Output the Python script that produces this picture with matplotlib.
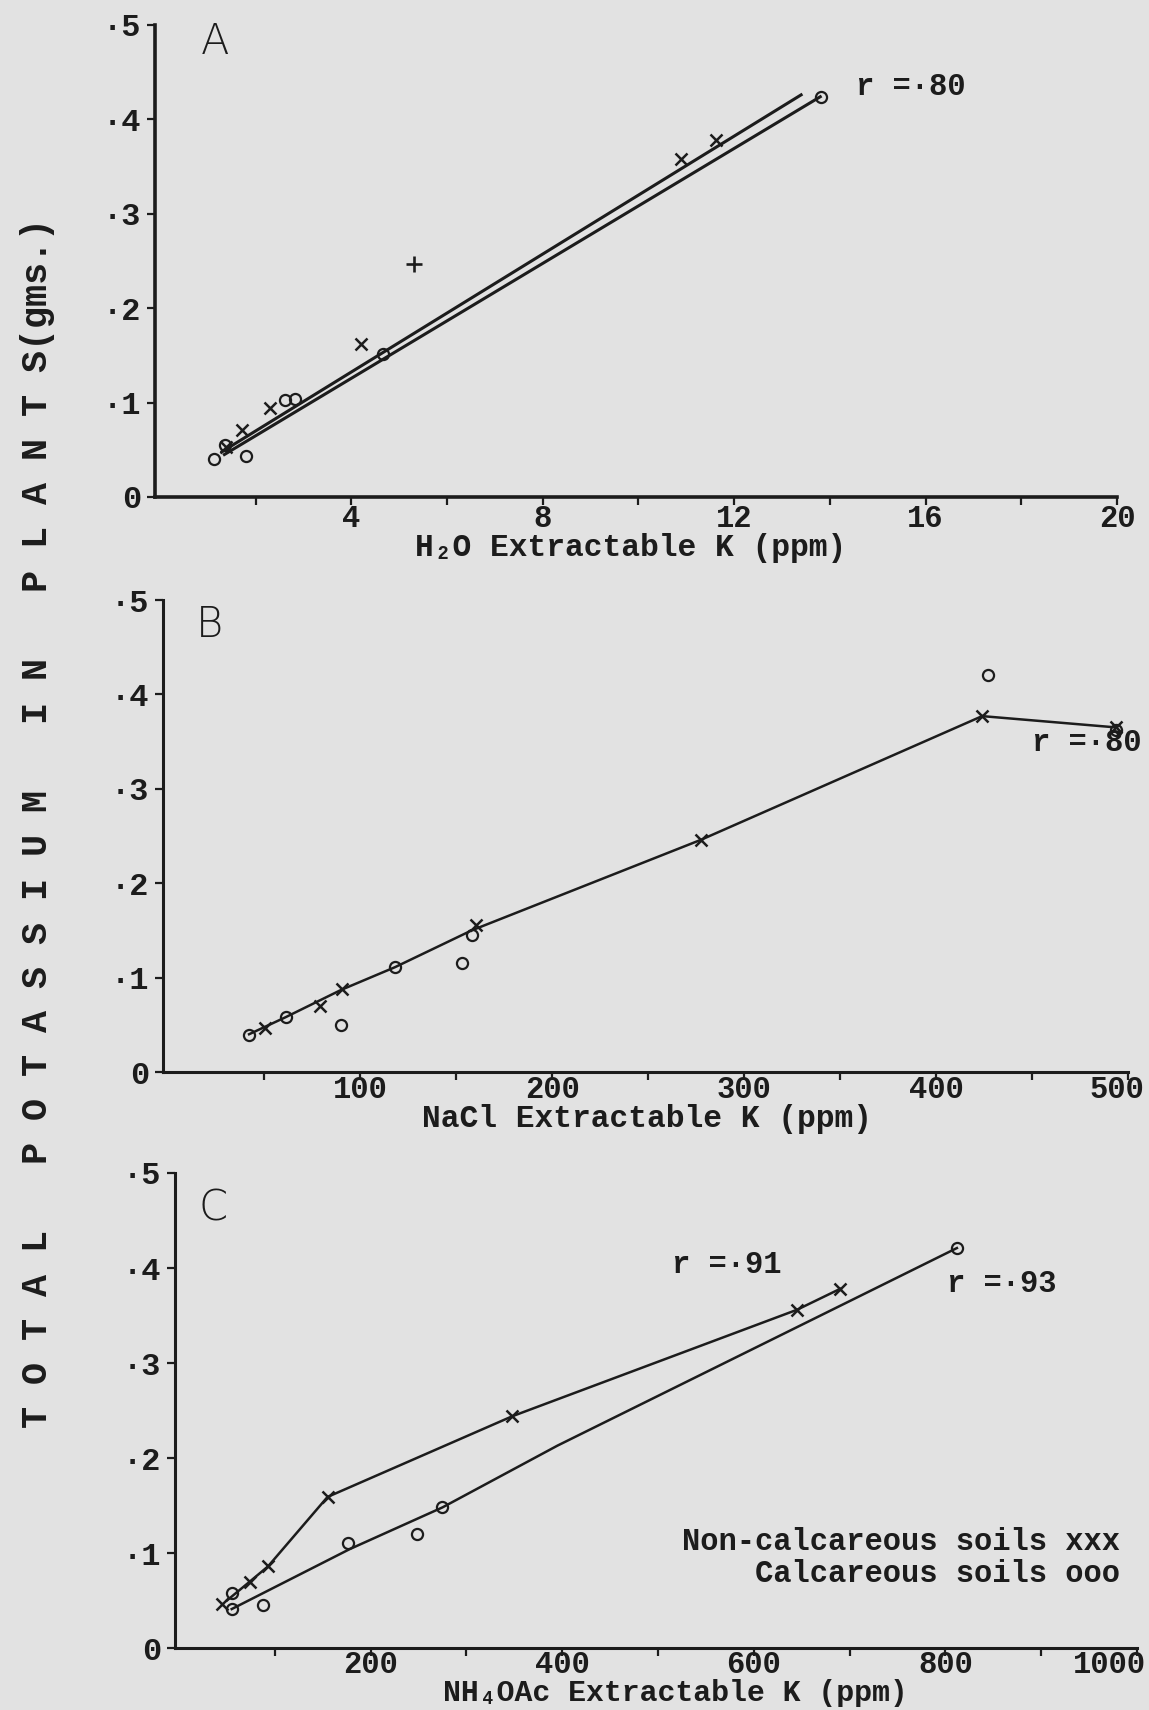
import matplotlib
matplotlib.use("Agg")
import matplotlib.pyplot as plt
import matplotlib.transforms as mtransforms

# ---------------- data ----------------
# Panel A : H2O extractable K (ppm) vs total K in plants (gms.)
a_x_x = [1.38, 1.72, 2.31, 4.21, 10.9, 11.62]
a_x_y = [0.053, 0.071, 0.094, 0.162, 0.358, 0.378]
a_plus_x = [5.31]
a_plus_y = [0.247]
a_o_x = [1.14, 1.36, 1.81, 2.62, 2.82, 4.66, 13.82]
a_o_y = [0.040, 0.055, 0.043, 0.103, 0.104, 0.152, 0.424]
a_fit_x_x = [1.3, 13.4]
a_fit_x_y = [0.048, 0.426]
a_fit_o_x = [1.35, 13.8]
a_fit_o_y = [0.045, 0.424]

# Panel B : NaCl extractable K (ppm)
b_x_x = [50.5, 79, 90.4, 160, 277.5, 424, 494]
b_x_y = [0.047, 0.070, 0.088, 0.156, 0.246, 0.377, 0.365]
b_o_x = [42, 61, 90, 118, 153, 158, 427, 494]
b_o_y = [0.039, 0.058, 0.050, 0.111, 0.115, 0.145, 0.421, 0.362]
b_line_x = [42, 61, 90, 118, 158, 277.5, 424, 494]
b_line_y = [0.040, 0.058, 0.087, 0.111, 0.150, 0.246, 0.377, 0.365]

# Panel C : NH4OAc extractable K (ppm)
c_x_x = [45, 74, 93, 155, 348, 645, 690]
c_x_y = [0.046, 0.070, 0.086, 0.159, 0.244, 0.356, 0.378]
c_o_x = [55, 55, 88, 176, 248, 275, 812]
c_o_y = [0.058, 0.041, 0.045, 0.111, 0.120, 0.148, 0.421]
c_line_x_x = [50, 74, 93, 155, 348, 645, 690]
c_line_x_y = [0.050, 0.070, 0.086, 0.159, 0.244, 0.356, 0.378]
c_line_o_x = [55, 178, 275, 395, 812]
c_line_o_y = [0.041, 0.104, 0.148, 0.213, 0.421]

y_ticks = [0, 0.1, 0.2, 0.3, 0.4, 0.5]
y_ticklabels = ["0", "·1", "·2", "·3", "·4", "·5"]

a_major = [4, 8, 12, 16, 20]
a_minor = [2, 6, 10, 14, 18]
b_major = [100, 200, 300, 400, 500]
b_minor = [50, 150, 250, 350, 450]
c_major = [200, 400, 600, 800, 1000]
c_minor = [100, 300, 500, 700, 900]

# ---------------- style ----------------
PAPER = "#e2e2e2"
INK = "#1c1c1c"
MONO = ["Liberation Mono", "DejaVu Sans Mono"]
plt.rcParams["font.family"] = MONO
plt.rcParams["font.weight"] = "bold"
plt.rcParams["axes.labelweight"] = "bold"

W, H = 1149, 1710
fig = plt.figure(figsize=(W / 100, H / 100), dpi=100, facecolor=PAPER)


def make_axes(left, right, bottom, top):
    return fig.add_axes([left / W, (H - bottom) / H, (right - left) / W, (bottom - top) / H])


def style(ax, xlim, major, minor, xlabel, label_xy, spine_w, last_shift, xpad, lsize):
    ax.set_facecolor("none")
    ax.set_xlim(*xlim)
    ax.set_ylim(0, 0.5)
    for s in ("top", "right"):
        ax.spines[s].set_visible(False)
    for s in ("left", "bottom"):
        ax.spines[s].set_linewidth(spine_w)
        ax.spines[s].set_color(INK)
    ax.set_yticks(y_ticks)
    ax.set_yticklabels(y_ticklabels)
    ax.set_xticks(major)
    ax.set_xticklabels([str(v) for v in major])
    ax.set_xticks(minor, minor=True)
    ax.tick_params(axis="both", which="both", direction="out", length=6, width=1.6,
                   colors=INK, labelsize=23)
    ax.tick_params(axis="x", which="major", pad=xpad, labelsize=22)
    ax.tick_params(axis="y", which="major", pad=4)
    ax.set_xlabel(xlabel, fontsize=lsize, color=INK, va="center")
    ax.xaxis.set_label_coords(*label_xy)
    if last_shift:
        lab = ax.get_xticklabels()[-1]
        lab.set_transform(lab.get_transform() +
                          mtransforms.ScaledTranslation(last_shift / 100, 0, fig.dpi_scale_trans))


def xs(ax, x, y):
    ax.plot(x, y, linestyle="none", marker="x", markersize=9, mew=1.8, color=INK, zorder=3)


def os_(ax, x, y):
    ax.plot(x, y, linestyle="none", marker="o", markersize=8, mew=1.6, mfc="none",
            mec=INK, zorder=3)


# ---------------- panel A ----------------
axA = make_axes(155, 1117, 497, 25)
style(axA, (-0.1, 20), a_major, a_minor, "H\u2082O Extractable K (ppm)",
      (0.494, -0.108), 2.6, 0, -0.7, 22.5)
axA.plot(a_fit_x_x, a_fit_x_y, color=INK, lw=2.2)
axA.plot(a_fit_o_x, a_fit_o_y, color=INK, lw=2.2)
xs(axA, a_x_x, a_x_y)
axA.plot(a_plus_x, a_plus_y, linestyle="none", marker="+", markersize=11, mew=1.9, color=INK)
os_(axA, a_o_x, a_o_y)
axA.text(14.55, 0.434, "r =·80", fontsize=22, color=INK, va="center", ha="left")
axA.text(1.15, 0.483, "A", fontsize=30, color=INK, va="center", ha="center",
         family="DejaVu Sans", fontweight="light")

# ---------------- panel B ----------------
axB = make_axes(163, 1128, 1072, 600)
style(axB, (-2.85, 500), b_major, b_minor, "NaCl Extractable K (ppm)",
      (0.502, -0.099), 2.2, -11, -4, 22.5)
axB.plot(b_line_x, b_line_y, color=INK, lw=1.8)
xs(axB, b_x_x, b_x_y)
os_(axB, b_o_x, b_o_y)
axB.text(450, 0.349, "r =·80", fontsize=22, color=INK, va="center", ha="left")
axB.text(21.5, 0.474, "B", fontsize=30, color=INK, va="center", ha="center",
         family="DejaVu Sans", fontweight="light")

# ---------------- panel C ----------------
axC = make_axes(175, 1137, 1648, 1173)
style(axC, (-4.2, 1000), c_major, c_minor, "NH\u2084OAc Extractable K (ppm)",
      (0.52, -0.094), 2.2, -28, -4.5, 21.5)
axC.plot(c_line_x_x, c_line_x_y, color=INK, lw=1.8)
axC.plot(c_line_o_x, c_line_o_y, color=INK, lw=1.8)
xs(axC, c_x_x, c_x_y)
os_(axC, c_o_x, c_o_y)
axC.text(515, 0.403, "r =·91", fontsize=22, color=INK, va="center", ha="left")
axC.text(802, 0.383, "r =·93", fontsize=22, color=INK, va="center", ha="left")
axC.text(982, 0.112, "Non-calcareous soils xxx", fontsize=22, color=INK, va="center", ha="right")
axC.text(982, 0.078, "Calcareous soils ooo", fontsize=22, color=INK, va="center", ha="right")
axC.text(36, 0.463, "C", fontsize=30, color=INK, va="center", ha="center",
         family="DejaVu Sans", fontweight="light")

# ---------------- shared y label ----------------
fig.text(38 / W, (H - 823) / H,
         "T O T A L   P O T A S S I U M   I N   P L A N T S(gms.)",
         rotation=90, fontsize=26.5, color=INK, va="center", ha="center", fontweight="bold")

fig.savefig("out.png", dpi=100, facecolor=PAPER)
